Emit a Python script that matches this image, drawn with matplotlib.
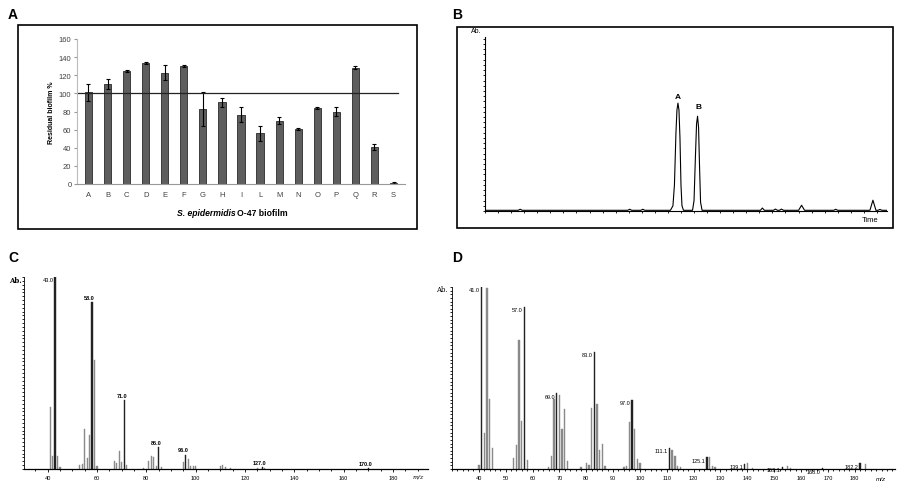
import numpy as np
import matplotlib
matplotlib.use("Agg")
import matplotlib.pyplot as plt
from matplotlib.patches import Rectangle
from matplotlib.ticker import MultipleLocator

plt.rcParams['font.family'] = ['Liberation Sans', 'DejaVu Sans']

# ---- panel A data: residual biofilm %
cats = ['A', 'B', 'C', 'D', 'E', 'F', 'G', 'H', 'I', 'L', 'M', 'N', 'O', 'P', 'Q', 'R', 'S']
biofilm = [101, 110, 124.5, 133.5, 123, 130.5, 83, 90, 76.5, 56, 70, 61, 83.5, 80, 128.5, 41, 1.5]
biofilm_err = [9, 5.5, 1, 1, 8, 1, 19, 5, 8, 8, 3.7, 1, 1, 5, 2, 3, 1]

# ---- panel B data: chromatogram trace (time, abundance)
chrom_t = [0, 3.3, 3.5, 3.7, 14.2, 14.4, 14.6, 15.5, 15.7, 15.9,
           18.45, 18.7, 18.85, 19.0, 19.1, 19.2, 19.3, 19.4, 19.5, 19.6, 19.75,
           20.65, 20.8, 20.93, 21.05, 21.15, 21.25, 21.35, 21.45, 21.6,
           27.4, 27.6, 27.8, 28.7, 28.9, 29.1, 29.3, 29.5, 29.7,
           31.2, 31.5, 31.8, 34.7, 34.9, 35.1,
           38.3, 38.6, 38.9, 39.1, 39.3, 39.5, 40]
chrom_y = [0.004, 0.004, 0.01, 0.004, 0.004, 0.01, 0.004, 0.004, 0.01, 0.004,
           0.004, 0.03, 0.15, 0.45, 0.58, 0.62, 0.58, 0.42, 0.15, 0.03, 0.004,
           0.004, 0.06, 0.3, 0.5, 0.545, 0.48, 0.25, 0.05, 0.004,
           0.004, 0.017, 0.004, 0.004, 0.011, 0.004, 0.004, 0.011, 0.004,
           0.004, 0.033, 0.004, 0.004, 0.01, 0.004,
           0.004, 0.062, 0.004, 0.004, 0.009, 0.004, 0.004]
peak_names = ['A', 'B']
peak_t = [19.2, 21.25]
peak_label_y = [0.66, 0.6]

# ---- panel C data: mass spectrum
c_mz = [41, 42, 43, 44, 45, 53, 54, 55, 56, 57, 58, 59, 60,
        67, 68, 69, 70, 71, 72, 79, 81, 82, 83, 84, 85, 86,
        95, 96, 97, 98, 99, 100, 110, 111, 112, 114, 125, 127, 128, 170]
c_ab = [0.322, 0.07, 1.0, 0.066, 0.012, 0.02, 0.026, 0.209, 0.057, 0.177, 0.87, 0.57, 0.017,
        0.043, 0.031, 0.092, 0.035, 0.357, 0.02, 0.005, 0.04, 0.066, 0.061, 0.017, 0.113, 0.009,
        0.038, 0.075, 0.052, 0.014, 0.014, 0.014, 0.017, 0.02, 0.012, 0.005, 0.005, 0.008, 0.005, 0.004]
c_label_mz = [43, 58, 71, 85, 96, 127, 170]
c_labels = ['43.0', '58.0', '71.0', '85.0', '96.0', '127.0', '170.0']

# ---- panel D data: mass spectrum
d_mz = [40, 41, 42, 43, 44, 45, 53, 54, 55, 56, 57, 58,
        66, 67, 68, 69, 70, 71, 72, 73, 78, 80, 81, 82, 83, 84, 85, 86, 87,
        94, 95, 96, 97, 98, 99, 100, 111, 112, 113, 114, 115,
        125, 126, 127, 128, 139, 140, 142, 153, 155, 156, 168, 182, 184]
d_ab = [0.02, 1.0, 0.196, 0.995, 0.387, 0.113, 0.06, 0.13, 0.708, 0.264, 0.889, 0.052,
        0.01, 0.074, 0.387, 0.415, 0.404, 0.221, 0.332, 0.046, 0.01, 0.035, 0.02, 0.336, 0.642,
        0.356, 0.105, 0.137, 0.015,
        0.01, 0.015, 0.258, 0.378, 0.221, 0.055, 0.033, 0.116, 0.106, 0.073, 0.018, 0.009,
        0.064, 0.064, 0.018, 0.009, 0.028, 0.033, 0.006, 0.013, 0.018, 0.005, 0.004, 0.031, 0.028]
d_label_mz = [41, 57, 69, 83, 97, 111, 125, 139, 153, 168, 182]
d_labels = ['41.0', '57.0', '69.0', '83.0', '97.0', '111.1', '125.1', '139.1', '153.1', '168.0', '182.2']

W, H = 899, 485
fig = plt.figure(figsize=(W / 100, H / 100), dpi=100)


def px_axes(x0, y0, x1, y1):
    return fig.add_axes([x0 / W, 1 - y1 / H, (x1 - x0) / W, (y1 - y0) / H])


def px_box(x0, y0, x1, y1):
    fig.patches.append(Rectangle((x0 / W, 1 - y1 / H), (x1 - x0) / W, (y1 - y0) / H,
                                 transform=fig.transFigure, fill=False,
                                 edgecolor='black', linewidth=1.2))


# panel letters
for letter, (x, y) in zip('ABCD', [(8, 15), (452, 15), (8, 258), (452, 258)]):
    fig.text(x / W, 1 - y / H, letter, fontsize=10, fontweight='bold', va='center')

# ---------------- A
px_box(18, 26, 417, 230)
axA = px_axes(77, 40, 405, 185)
xs = np.arange(len(cats))
axA.bar(xs, biofilm, width=0.38, color='#5e5e5e', edgecolor='#2a2a2a', linewidth=0.6,
        yerr=biofilm_err, error_kw=dict(ecolor='black', elinewidth=0.8, capsize=1.5, capthick=0.8))
axA.axhline(100, color='#222222', linewidth=0.9, xmin=-0.02, xmax=0.98)
axA.set_xlim(-0.6, len(cats) - 0.4)
axA.set_ylim(0, 160)
axA.yaxis.set_major_locator(MultipleLocator(20))
axA.set_xticks(xs)
axA.set_xticklabels(cats)
axA.tick_params(axis='both', labelsize=5.5, colors='#404040', length=0, pad=5)
axA.tick_params(axis='y', length=2, color='#999999', pad=2)
for s in ['top', 'right']:
    axA.spines[s].set_visible(False)
axA.spines['left'].set_color('#bbbbbb')
axA.spines['bottom'].set_color('#999999')
axA.set_ylabel('Residual biofilm %', fontsize=5, fontweight='bold', labelpad=3)
axA.text(0.483, -0.195, 'S. epidermidis', transform=axA.transAxes, fontsize=6.2,
         fontweight='bold', style='italic', ha='right', va='center')
axA.text(0.489, -0.195, 'O-47 biofilm', transform=axA.transAxes, fontsize=6.2,
         fontweight='bold', ha='left', va='center')

# ---------------- B
px_box(457, 28, 893, 229)
axB = px_axes(485, 38, 887, 212)
axB.plot(chrom_t, chrom_y, color='black', linewidth=0.8)
for name, t, yl in zip(peak_names, peak_t, peak_label_y):
    axB.text(t, yl, name, fontsize=6, fontweight='bold', ha='center', va='center')
axB.set_xlim(0, 40)
axB.set_ylim(0, 1)
axB.xaxis.set_minor_locator(MultipleLocator(1.3))
axB.yaxis.set_minor_locator(MultipleLocator(0.03))
axB.set_xticks([])
axB.set_yticks([])
axB.tick_params(which='minor', length=1.5, width=0.6, labelbottom=False, labelleft=False)
for s in ['top', 'right']:
    axB.spines[s].set_visible(False)
axB.spines['left'].set_linewidth(0.8)
axB.spines['bottom'].set_linewidth(0.8)
axB.text(-0.008, 1.035, 'Ab.', transform=axB.transAxes, fontsize=5, ha='right', va='center')
axB.text(0.957, -0.05, 'Time', transform=axB.transAxes, fontsize=5.5, ha='center', va='center')


def spectrum(ax, mz, ab, lab_mz, labs, xlim, ticks, minor, right_first):
    cols = ['#222222' if m in lab_mz else '#8a8a8a' for m in mz]
    ax.bar(mz, ab, width=0.5, color=cols, edgecolor=cols, linewidth=0.3)
    lookup = dict(zip(mz, ab))
    for i, (m, t) in enumerate(zip(lab_mz, labs)):
        h = lookup.get(m, 0)
        if right_first is None or (right_first and i == 0):
            ax.text(m - 0.6, h - 0.015, t, fontsize=4, ha='right', va='center')
        else:
            ax.text(m - 1.0, h + 0.012, t, fontsize=4, fontweight='bold', ha='center', va='bottom')
    ax.set_xlim(*xlim)
    ax.set_ylim(0, 1.0)
    ax.set_xticks(ticks)
    ax.set_xticklabels([str(t) for t in ticks])
    ax.xaxis.set_minor_locator(MultipleLocator(minor))
    ax.yaxis.set_minor_locator(MultipleLocator(0.02))
    ax.set_yticks([])
    ax.tick_params(axis='x', labelsize=4, colors='black', length=2, width=0.6, pad=2)
    ax.tick_params(which='minor', length=1.5, width=0.6)
    for s in ['top', 'right']:
        ax.spines[s].set_visible(False)
    ax.spines['left'].set_linewidth(0.6)
    ax.spines['left'].set_linestyle((0, (1, 1)))
    ax.spines['bottom'].set_linewidth(0.9)


# ---------------- C
axC = px_axes(24, 278, 428, 470)
spectrum(axC, c_mz, c_ab, c_label_mz, c_labels, (30.4, 194.2),
         [40, 60, 80, 100, 120, 140, 160, 180], 5, True)
axC.text(-0.005, 0.985, 'Ab.', transform=axC.transAxes, fontsize=5, family='DejaVu Serif',
         fontweight='bold', ha='right', va='center')
axC.text(0.975, -0.036, 'm/z', transform=axC.transAxes, fontsize=4.5, style='italic',
         family='DejaVu Serif', ha='center', va='center')

# ---------------- D
axD = px_axes(452, 288, 895, 470)
spectrum(axD, d_mz, d_ab, d_label_mz, d_labels, (30, 195),
         list(range(40, 190, 10)), 2, None)
axD.text(-0.01, 0.99, 'Ab.', transform=axD.transAxes, fontsize=5, family='DejaVu Serif',
         ha='right', va='center')
axD.text(0.968, -0.05, 'm/z', transform=axD.transAxes, fontsize=4.5, style='italic',
         ha='center', va='center')

fig.savefig('out.png', dpi=100)
